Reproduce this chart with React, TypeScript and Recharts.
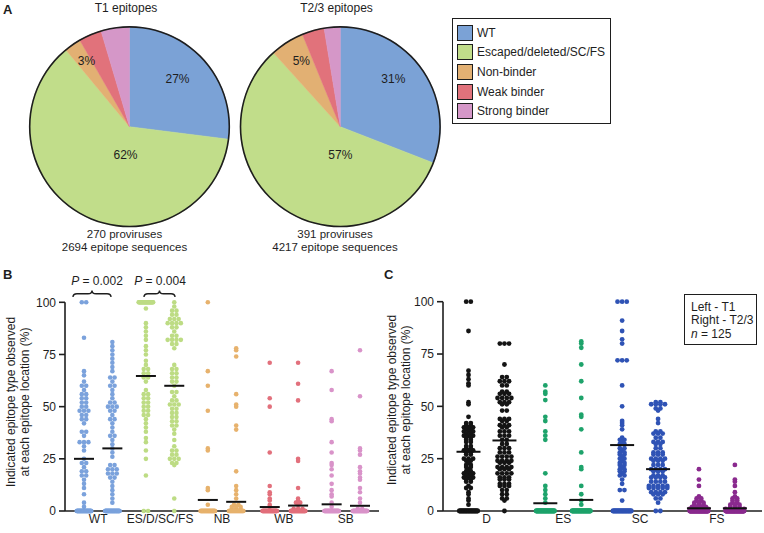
import React from "react";
import { Cell, Pie, PieChart, Scatter, ScatterChart, XAxis, YAxis } from "recharts";

const FONT = '"Liberation Sans", Arial, Helvetica, sans-serif';
const INK = "#1e1e1e";

// ---- panel A: share of epitope sequences ----
const sliceNames = ["WT", "Escaped/deleted/SC/FS", "Non-binder", "Weak binder", "Strong binder"];
const sliceColors = ["#7ba2d6", "#c1dd8a", "#e2b073", "#e1727b", "#d597c8"];
const t1Shares = [27, 62, 2.7, 3.7, 4.6];
const t23Shares = [30.9, 57.4, 5.5, 3.6, 2.6];
const t1Labels = ["27%", "62%", "3%", "", ""];
const t23Labels = ["31%", "57%", "5%", "", ""];

// ---- panel B / C: [value %, number of epitope locations at that value] ----
type Col = [number, number][];

const bCategories = ["WT", "ES/D/SC/FS", "NB", "WB", "SB"];
const bWtT1: Col = [[100,2],[83,1],[67,1],[65,1],[62,1],[60,2],[58,1],[56,2],[54,2],[52,2],[50,2],[48,3],[46,2],[44,2],[42,1],[38,2],[36,1],[33,3],[31,1],[29,1],[25,1],[23,2],[21,1],[19,2],[17,2],[15,1],[13,1],[11,1],[8,1],[4,1],[2,1],[0,50]];
const bWtT23: Col = [[81,1],[79,1],[77,1],[75,1],[73,1],[71,1],[69,1],[67,1],[64,2],[62,1],[60,2],[58,1],[56,1],[54,1],[52,2],[50,3],[48,2],[46,1],[44,2],[42,1],[40,1],[38,1],[36,2],[34,1],[32,1],[30,1],[28,1],[26,1],[22,2],[20,3],[18,3],[16,2],[14,1],[12,1],[10,1],[8,1],[6,1],[4,1],[0,50]];
const bEsT1: Col = [[100,30],[97,1],[90,1],[88,1],[86,1],[84,1],[82,1],[79,1],[77,1],[75,1],[72,1],[70,1],[68,2],[66,2],[64,2],[62,1],[58,1],[56,2],[54,2],[52,2],[50,2],[48,2],[46,2],[44,1],[42,1],[40,1],[38,1],[35,1],[33,1],[29,1],[25,1],[17,1],[0,2]];
const bEsT23: Col = [[100,1],[98,1],[96,2],[94,2],[92,3],[90,4],[88,2],[86,1],[84,2],[82,4],[80,2],[78,1],[70,1],[68,2],[66,2],[64,2],[62,2],[60,1],[57,2],[55,1],[53,2],[51,3],[49,2],[47,2],[45,2],[43,2],[41,2],[39,1],[37,1],[34,1],[31,1],[29,2],[27,2],[25,3],[23,2],[22,1],[6,1],[0,1]];
const bNbT1: Col = [[100,1],[67,1],[60,1],[48,1],[30,1],[29,1],[11,1],[10,1],[3,1],[0,40]];
const bNbT23: Col = [[78,1],[77,1],[74,1],[56,1],[51,1],[50,1],[41,1],[39,1],[19,1],[12,1],[10,1],[8,1],[6,1],[3,2],[2,3],[1,3],[0,30]];
const bWbT1: Col = [[71,1],[54,1],[50,1],[28,1],[12,1],[9,1],[8,1],[6,1],[5,1],[3,1],[2,1],[0,45]];
const bWbT23: Col = [[71,1],[61,1],[53,1],[25,1],[24,1],[11,1],[6,1],[5,1],[4,2],[3,1],[1,3],[0,45]];
const bSbT1: Col = [[67,1],[58,1],[44,1],[43,1],[33,1],[28,1],[23,1],[22,1],[20,1],[17,1],[13,1],[10,1],[8,1],[7,1],[4,1],[2,1],[0,45]];
const bSbT23: Col = [[77,1],[55,1],[30,1],[29,1],[27,1],[21,1],[19,1],[18,1],[16,1],[15,1],[11,1],[9,1],[6,1],[4,1],[1,2],[0,45]];
const bMeansT1 = [25, 64.7, 5.3, 1.9, 3.2];
const bMeansT23 = [30, 60, 4.4, 2.6, 2.5];
const bColors = ["#7ba2dc", "#bddc84", "#e7b26d", "#e2707c", "#d993c9"];

const cCategories = ["D", "ES", "SC", "FS"];
const cDT1: Col = [[100,2],[86,1],[67,1],[65,1],[63,1],[61,1],[60,1],[52,1],[51,1],[45,1],[42,2],[41,2],[40,3],[39,2],[38,3],[37,2],[36,3],[35,2],[34,2],[33,2],[31,2],[30,2],[29,3],[28,2],[27,2],[25,3],[24,2],[23,1],[22,2],[21,2],[20,1],[19,2],[18,3],[17,2],[16,3],[15,2],[14,2],[12,1],[11,2],[9,1],[8,1],[6,1],[5,1],[3,1],[0,30]];
const cDT23: Col = [[80,3],[70,1],[64,2],[62,3],[60,2],[57,2],[56,3],[54,4],[52,3],[51,2],[48,2],[44,3],[43,2],[41,3],[40,2],[38,3],[36,3],[34,2],[32,2],[30,3],[28,3],[26,4],[24,4],[23,3],[21,4],[20,3],[18,4],[16,3],[15,3],[13,3],[12,3],[10,2],[8,2],[6,2],[5,1],[0,1]];
const cEsT1: Col = [[60,1],[57,1],[56,1],[53,1],[45,1],[43,1],[38,1],[36,1],[34,1],[18,1],[12,1],[10,1],[8,1],[6,1],[4,1],[0,40]];
const cEsT23: Col = [[81,1],[80,1],[78,1],[70,1],[62,1],[54,1],[46,1],[45,1],[39,1],[28,1],[21,1],[20,1],[12,1],[8,1],[5,1],[3,1],[0,40]];
const cScT1: Col = [[100,3],[91,1],[86,1],[82,1],[80,1],[72,3],[60,1],[50,1],[43,1],[42,1],[41,1],[39,1],[35,1],[34,2],[33,1],[32,2],[30,2],[29,1],[28,2],[27,2],[26,1],[25,2],[24,1],[23,2],[22,2],[21,1],[20,2],[19,2],[18,1],[17,2],[15,1],[13,1],[10,2],[5,1],[0,30]];
const cScT23: Col = [[52,2],[51,4],[49,2],[48,1],[44,1],[42,1],[38,2],[37,3],[35,2],[33,3],[32,2],[30,2],[28,3],[27,3],[25,4],[24,3],[22,3],[20,4],[19,3],[17,3],[16,4],[14,4],[12,5],[11,5],[9,4],[8,3],[6,2],[4,1],[0,2]];
const cFsT1: Col = [[20,1],[15,1],[12,1],[7,1],[6,2],[5,2],[4,3],[3,3],[2,4],[1,5],[0,60]];
const cFsT23: Col = [[22,1],[15,1],[14,1],[12,1],[9,1],[7,1],[6,2],[5,2],[4,2],[3,3],[2,3],[1,5],[0,60]];
const cMeansT1 = [28.3, 3.7, 31.5, 1.3];
const cMeansT23 = [33.7, 5.3, 20, 1.3];
const cColors = ["#141414", "#1ea36b", "#2f53b5", "#8a2a8e"];

const yTicks = [0, 25, 50, 75, 100];

// spread points that share a value side by side, GraphPad style
function swarm(col: Col, center: number, pxPerUnit: number, span: number, gap: number) {
  const pts: { x: number; y: number }[] = [];
  for (const [v, n] of col) {
    const step = n > 1 ? Math.min(gap, span / (n - 1)) : 0;
    for (let i = 0; i < n; i++) {
      pts.push({ x: center + ((i - (n - 1) / 2) * step) / pxPerUnit, y: v });
    }
  }
  return pts;
}

type PanelProps = {
  left: number;
  width: number;
  yAxisWidth: number;
  marginRight: number;
  marginTop: number;
  cats: string[];
  colors: string[];
  t1: Col[];
  t23: Col[];
  m1: number[];
  m23: number[];
  domain: [number, number];
  subOffset: number;
  span: number;
  dot: number;
  meanW: number;
};

function DotPanel(p: PanelProps) {
  const plotW = p.width - p.yAxisWidth - p.marginRight;
  const pxPerUnit = plotW / (p.domain[1] - p.domain[0]);
  const gap = p.dot * 2 - 0.2;
  const means = p.cats.flatMap((_, i) => [
    { x: i + 1 - p.subOffset, y: p.m1[i] },
    { x: i + 1 + p.subOffset, y: p.m23[i] },
  ]);
  const tickStyle = { fill: INK, fontSize: 12, fontFamily: FONT };
  return (
    <ScatterChart
      width={p.width}
      height={253}
      margin={{ top: p.marginTop, right: p.marginRight, bottom: 0, left: 0 }}
      style={{ position: "absolute", left: p.left, top: 280 }}
    >
      <XAxis
        type="number"
        dataKey="x"
        domain={p.domain}
        ticks={p.cats.map((_, i) => i + 1)}
        interval={0}
        tickFormatter={(v: number) => p.cats[Math.round(v) - 1]}
        height={22}
        tickLine={false}
        tickSize={0}
        tickMargin={3}
        axisLine={{ stroke: INK, strokeWidth: 1.6 }}
        tick={tickStyle}
      />
      <YAxis
        type="number"
        dataKey="y"
        domain={[0, 100]}
        ticks={yTicks}
        width={p.yAxisWidth}
        tickSize={6}
        tickMargin={3}
        axisLine={{ stroke: INK, strokeWidth: 1.6 }}
        tickLine={{ stroke: INK, strokeWidth: 1.6 }}
        tick={tickStyle}
      />
      {p.cats.flatMap((c, i) => [
        <Scatter
          key={c + "-t1"}
          data={swarm(p.t1[i], i + 1 - p.subOffset, pxPerUnit, p.span, gap)}
          isAnimationActive={false}
          shape={(s: any) => <circle cx={s.cx} cy={s.cy} r={p.dot} fill={p.colors[i]} />}
        />,
        <Scatter
          key={c + "-t23"}
          data={swarm(p.t23[i], i + 1 + p.subOffset, pxPerUnit, p.span, gap)}
          isAnimationActive={false}
          shape={(s: any) => <circle cx={s.cx} cy={s.cy} r={p.dot} fill={p.colors[i]} />}
        />,
      ])}
      <Scatter
        data={means}
        isAnimationActive={false}
        shape={(s: any) => (
          <line x1={s.cx - p.meanW / 2} x2={s.cx + p.meanW / 2} y1={s.cy} y2={s.cy} stroke="#111" strokeWidth={2} />
        )}
      />
    </ScatterChart>
  );
}

// label placement relative to pie centre (layout only)
const t1LabelNudge = [[48, -48], [-4, 28], [-43, -66]];
const t23LabelNudge = [[53, -48], [0, 28], [-39, -66]];

function pieLabel(labels: string[], nudge: number[][]) {
  return (props: any) => {
    const i = props.index;
    if (!labels[i]) return null;
    return (
      <text
        x={props.cx + nudge[i][0]}
        y={props.cy + nudge[i][1]}
        textAnchor="middle"
        dominantBaseline="central"
        fontSize={12}
        fontFamily={FONT}
        fill={INK}
      >
        {labels[i]}
      </text>
    );
  };
}

const ring = [{ name: "outline", value: 1 }];

function Pies() {
  const d1 = sliceNames.map((name, i) => ({ name, value: t1Shares[i] }));
  const d2 = sliceNames.map((name, i) => ({ name, value: t23Shares[i] }));
  const common = { dataKey: "value", cy: 121.7, outerRadius: 100, startAngle: 90, endAngle: -270, isAnimationActive: false, labelLine: false };
  return (
    <PieChart width={450} height={250} style={{ position: "absolute", left: 0, top: 0 }}>
      <Pie {...common} data={d1} cx={124.5} stroke="none" label={pieLabel(t1Labels, t1LabelNudge)}>
        {d1.map((d, i) => <Cell key={d.name} fill={sliceColors[i]} stroke={sliceColors[i]} strokeWidth={0.5} />)}
      </Pie>
      <Pie {...common} data={d2} cx={335.3} stroke="none" label={pieLabel(t23Labels, t23LabelNudge)}>
        {d2.map((d, i) => <Cell key={d.name} fill={sliceColors[i]} stroke={sliceColors[i]} strokeWidth={0.5} />)}
      </Pie>
      <Pie {...common} data={ring} cx={124.5} innerRadius={99} outerRadius={100.6} fill={INK} stroke="none" label={false} />
      <Pie {...common} data={ring} cx={335.3} innerRadius={99} outerRadius={100.6} fill={INK} stroke="none" label={false} />
    </PieChart>
  );
}

function brace(x1: number, x2: number, top: number, bottom: number) {
  const mid = (x1 + x2) / 2;
  const yMid = (top + bottom) / 2;
  const r = 4;
  return `M${x1},${bottom} Q${x1},${yMid} ${x1 + r},${yMid} L${mid - r},${yMid} Q${mid},${yMid} ${mid},${top} Q${mid},${yMid} ${mid + r},${yMid} L${x2 - r},${yMid} Q${x2},${yMid} ${x2},${bottom}`;
}

function Overlay() {
  const t = { fontFamily: FONT, fontSize: 12, fill: INK };
  const cap = { fontFamily: FONT, fontSize: 11.5, fill: INK };
  return (
    <svg width={764} height={533} style={{ position: "absolute", left: 0, top: 0, pointerEvents: "none" }}>
      <text x={3} y={13.5} {...t} fontSize={13} fontWeight="bold">A</text>
      <text x={3} y={278.5} {...t} fontSize={13} fontWeight="bold">B</text>
      <text x={384} y={278.5} {...t} fontSize={13} fontWeight="bold">C</text>

      <text x={126} y={12} textAnchor="middle" {...t}>T1 epitopes</text>
      <text x={336.5} y={12} textAnchor="middle" {...t}>T2/3 epitopes</text>
      <text x={124.5} y={238} textAnchor="middle" {...cap}>270 proviruses</text>
      <text x={124.5} y={251} textAnchor="middle" {...cap}>2694 epitope sequences</text>
      <text x={335} y={238} textAnchor="middle" {...cap}>391 proviruses</text>
      <text x={335} y={251} textAnchor="middle" {...cap}>4217 epitope sequences</text>

      <text x={97} y={284.5} textAnchor="middle" {...t}><tspan fontStyle="italic">P</tspan> = 0.002</text>
      <text x={160} y={284.5} textAnchor="middle" {...t}><tspan fontStyle="italic">P</tspan> = 0.004</text>
      <path d={brace(73, 111, 290.5, 297)} fill="none" stroke={INK} strokeWidth={1.4} />
      <path d={brace(144, 175, 290.5, 297)} fill="none" stroke={INK} strokeWidth={1.4} />

      <text transform="translate(15.3,402) rotate(-90)" textAnchor="middle" {...t}>Indicated epitope type observed</text>
      <text transform="translate(29,402) rotate(-90)" textAnchor="middle" {...t}>at each epitope location (%)</text>
      <text transform="translate(395.5,400) rotate(-90)" textAnchor="middle" {...t}>Indicated epitope type observed</text>
      <text transform="translate(409.5,400) rotate(-90)" textAnchor="middle" {...t}>at each epitope location (%)</text>
    </svg>
  );
}

function SliceLegend() {
  return (
    <div
      style={{
        position: "absolute",
        left: 452,
        top: 18,
        width: 157,
        height: 104,
        border: `1.3px solid ${INK}`,
        fontFamily: FONT,
        fontSize: 12,
        color: INK,
      }}
    >
      {sliceNames.map((name, i) => (
        <div key={name} style={{ position: "absolute", left: 4, top: 5.7 + i * 19.6, height: 16, display: "flex", alignItems: "center" }}>
          <span style={{ width: 14, height: 14, background: sliceColors[i], border: `1px solid ${INK}`, display: "inline-block" }} />
          <span style={{ marginLeft: 4, whiteSpace: "nowrap" }}>{name}</span>
        </div>
      ))}
    </div>
  );
}

function TimeLegend() {
  return (
    <div
      style={{
        position: "absolute",
        left: 684,
        top: 294,
        width: 73,
        height: 51,
        border: `1.3px solid ${INK}`,
        fontFamily: FONT,
        fontSize: 12,
        lineHeight: "13.4px",
        color: INK,
        padding: "6px 0 0 6px",
        boxSizing: "border-box",
        whiteSpace: "nowrap",
      }}
    >
      <div>Left - T1</div>
      <div>Right - T2/3</div>
      <div><i>n</i> = 125</div>
    </div>
  );
}

export default function App() {
  return (
    <div style={{ position: "absolute", left: 0, top: 0, width: 764, height: 533, background: "#fff", overflow: "hidden" }}>
      <Pies />
      <SliceLegend />
      <DotPanel
        left={0}
        width={385}
        yAxisWidth={65}
        marginRight={6}
        marginTop={22.3}
        cats={bCategories}
        colors={bColors}
        t1={[bWtT1, bEsT1, bNbT1, bWbT1, bSbT1]}
        t23={[bWtT23, bEsT23, bNbT23, bWbT23, bSbT23]}
        m1={bMeansT1}
        m23={bMeansT23}
        domain={[0.464, 5.536]}
        subOffset={0.229}
        span={14.5}
        dot={2.3}
        meanW={20}
      />
      <DotPanel
        left={385}
        width={379}
        yAxisWidth={58}
        marginRight={2}
        marginTop={21.7}
        cats={cCategories}
        colors={cColors}
        t1={[cDT1, cEsT1, cScT1, cFsT1]}
        t23={[cDT23, cEsT23, cScT23, cFsT23]}
        m1={cMeansT1}
        m23={cMeansT23}
        domain={[0.434, 4.587]}
        subOffset={0.234}
        span={18.5}
        dot={2.4}
        meanW={24}
      />
      <TimeLegend />
      <Overlay />
    </div>
  );
}
